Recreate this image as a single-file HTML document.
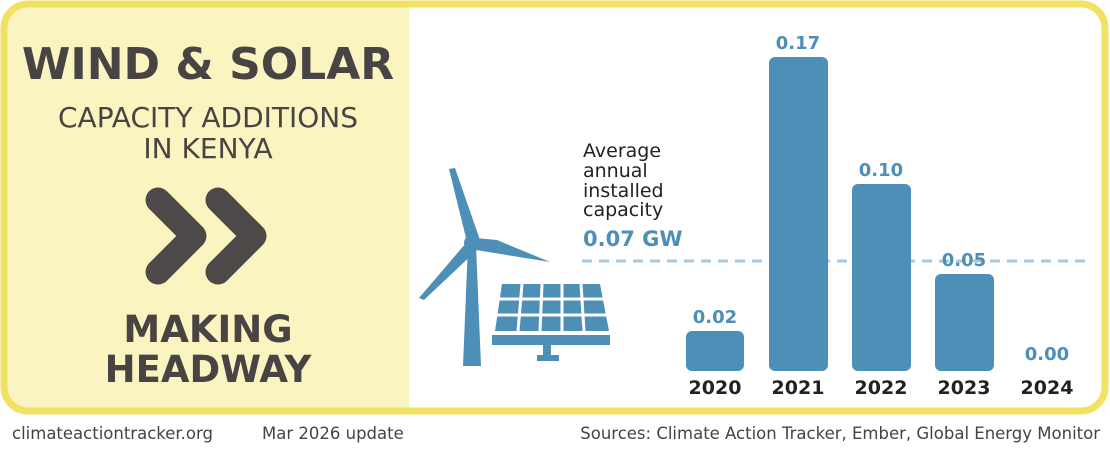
<!DOCTYPE html>
<html><head><meta charset="utf-8"><style>
body{margin:0;background:#fff;width:1110px;height:444px;overflow:hidden}
</style></head><body>
<svg width="1110" height="444" viewBox="0 0 1110 444" xmlns="http://www.w3.org/2000/svg" style="font-family:'DejaVu Sans','Liberation Sans',sans-serif">
<defs><clipPath id="c"><rect x="4" y="4" width="1101" height="407" rx="24"/></clipPath></defs>
<rect x="4" y="4" width="1101" height="407" rx="24" fill="#fff"/>
<rect x="0" y="0" width="409" height="420" fill="#faf4c0" clip-path="url(#c)"/>
<rect x="4" y="4" width="1101" height="407" rx="24" fill="none" stroke="#f2e264" stroke-width="7"/>
<g fill="#484444" text-anchor="middle">
<text x="208" y="79" font-size="44" font-weight="bold">WIND &amp; SOLAR</text>
<text x="208" y="127" font-size="28">CAPACITY ADDITIONS</text>
<text x="208" y="158" font-size="28">IN KENYA</text>
<text x="208" y="342" font-size="37" font-weight="bold">MAKING</text>
<text x="208" y="382" font-size="37" font-weight="bold">HEADWAY</text>
</g>
<g fill="none" stroke="#4d4949" stroke-width="25" stroke-linecap="round" stroke-linejoin="round">
<polyline points="158,200 194,236 158,272"/>
<polyline points="218,200 254,236 218,272"/>
</g>
<line x1="582" y1="261" x2="1092" y2="261" stroke="#a9c9e0" stroke-width="3" stroke-dasharray="10,7"/>
<g fill="#4e8fb8">
<polygon points="468,245 476,245 481,366 463,366"/>
<circle cx="472" cy="243" r="8"/>
<polygon points="449,169 455,168 480,240 468,246"/>
<polygon points="476,238 497,240 550,262 476,250"/>
<polygon points="466,243 477,250 424,300 419,298"/>
<polygon points="502,284 600,284 609,331 495,331"/>
<rect x="492" y="335" width="118" height="10"/>
<rect x="543" y="345" width="8" height="12"/>
<rect x="537" y="355" width="22" height="6"/>
</g>
<g stroke="#fff" stroke-width="3">
<line x1="522" y1="284" x2="518" y2="331"/><line x1="542" y1="284" x2="540" y2="331"/><line x1="562" y1="284" x2="562" y2="331"/><line x1="581" y1="284" x2="584" y2="331"/>
<line x1="498" y1="299" x2="605" y2="299"/><line x1="497" y1="315" x2="607" y2="315"/>
</g>
<g fill="#222" font-size="19">
<text x="583" y="157">Average</text><text x="583" y="177">annual</text><text x="583" y="197">installed</text><text x="583" y="216">capacity</text>
</g>
<text x="583" y="246" fill="#4e8fb8" font-size="21" font-weight="bold">0.07 GW</text>
<g fill="#4e8fb8">
<rect x="686" y="331" width="58" height="40" rx="6"/>
<rect x="769" y="57" width="59" height="314" rx="6"/>
<rect x="852" y="184" width="59" height="187" rx="6"/>
<rect x="935" y="274" width="59" height="97" rx="6"/>
</g>
<g fill="#4e8fb8" font-size="18" font-weight="bold" text-anchor="middle">
<text x="715" y="323">0.02</text><text x="798" y="49">0.17</text><text x="881" y="176">0.10</text><text x="964" y="266">0.05</text><text x="1047" y="360">0.00</text>
</g>
<g fill="#222" font-size="19" font-weight="bold" text-anchor="middle">
<text x="715" y="394">2020</text><text x="798" y="394">2021</text><text x="881" y="394">2022</text><text x="964" y="394">2023</text><text x="1047" y="394">2024</text>
</g>
<g fill="#444" font-size="16.5">
<text x="12" y="439">climateactiontracker.org</text>
<text x="262" y="439">Mar 2026 update</text>
<text x="1100" y="439" text-anchor="end">Sources: Climate Action Tracker, Ember, Global Energy Monitor</text>
</g>
</svg>
</body></html>
